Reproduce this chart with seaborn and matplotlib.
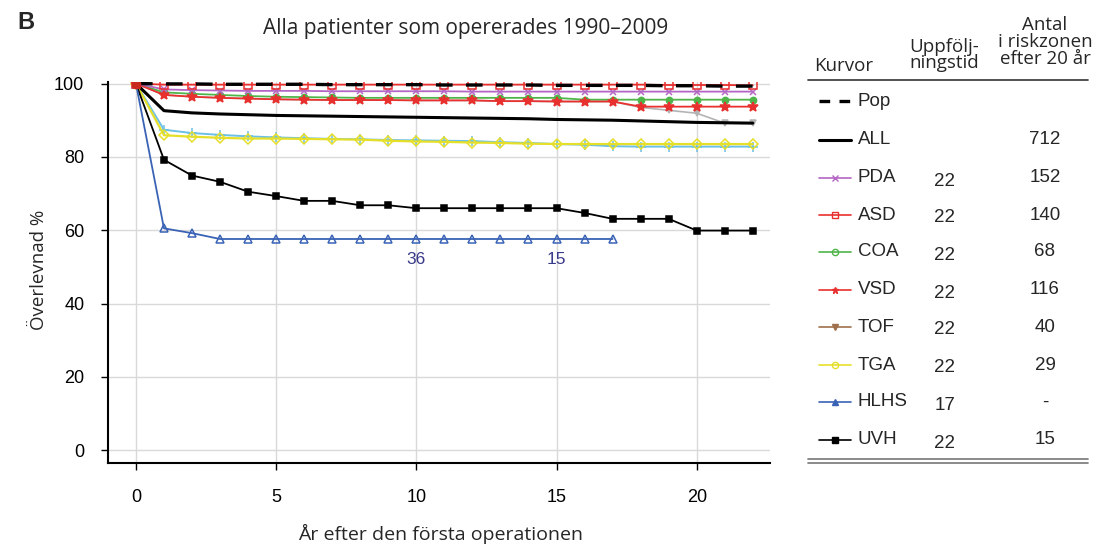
import pandas as pd
import matplotlib.pyplot as plt
import seaborn as sns
import numpy as np

# data (years 0..22)
years = list(range(23))
pop = [100, 99.9, 99.9, 99.8, 99.8, 99.8, 99.8, 99.7, 99.7, 99.7, 99.7, 99.6, 99.6,
       99.6, 99.6, 99.5, 99.5, 99.5, 99.5, 99.4, 99.4, 99.3, 99.3]
all_vals = [100, 92.6, 92.0, 91.7, 91.5, 91.3, 91.2, 91.1, 91.0, 90.9, 90.8, 90.7, 90.6,
            90.5, 90.4, 90.2, 90.1, 90.0, 89.8, 89.6, 89.4, 89.3, 89.2]
pda = [100, 98.4, 98.2, 98.1, 98.0, 98.0, 98.0, 97.9, 97.9, 97.9, 97.9, 97.9, 97.8,
       97.8, 97.8, 97.8, 97.8, 97.8, 97.8, 97.8, 97.8, 97.8, 97.8]
asd = [100, 99.7, 99.7, 99.7, 99.7, 99.7, 99.7, 99.7, 99.7, 99.7, 99.7, 99.7, 99.7,
       99.7, 99.7, 99.7, 99.7, 99.7, 99.7, 99.6, 99.6, 99.6, 99.5]
coa = [100, 97.6, 97.2, 96.9, 96.6, 96.4, 96.3, 96.2, 96.1, 96.1, 96.1, 96.1, 96.1,
       96.1, 96.1, 96.1, 95.6, 95.6, 95.6, 95.6, 95.6, 95.6, 95.6]
vsd = [100, 96.9, 96.4, 96.1, 95.9, 95.7, 95.6, 95.5, 95.5, 95.5, 95.4, 95.4, 95.4,
       95.2, 95.2, 95.1, 95.1, 95.1, 93.7, 93.7, 93.7, 93.7, 93.7]
tof = [100, 96.9, 96.4, 96.1, 95.9, 95.7, 95.6, 95.5, 95.5, 95.5, 95.4, 95.4, 95.4,
       95.2, 95.2, 95.1, 95.1, 95.1, 93.5, 92.7, 91.9, 89.2, 89.2]
tga = [100, 85.9, 85.5, 85.2, 85.0, 85.0, 84.9, 84.8, 84.7, 84.4, 84.2, 84.1, 83.9,
       83.8, 83.6, 83.5, 83.5, 83.5, 83.5, 83.5, 83.5, 83.5, 83.5]
lightblue = [100, 87.4, 86.5, 86.0, 85.6, 85.3, 85.1, 84.9, 84.8, 84.6, 84.5, 84.4, 84.3,
             84.0, 83.8, 83.5, 83.3, 82.9, 82.8, 82.8, 82.8, 82.8, 82.8]
hlhs = [100, 60.5, 59.2, 57.6, 57.6, 57.6, 57.6, 57.6, 57.6, 57.6, 57.6, 57.6, 57.6,
        57.6, 57.6, 57.6, 57.6, 57.6]
uvh = [100, 79.2, 74.9, 73.2, 70.5, 69.3, 68.0, 68.0, 66.8, 66.8, 66.0, 66.0, 66.0,
       66.0, 66.0, 66.0, 64.7, 63.1, 63.1, 63.1, 59.9, 59.9, 59.9]

labels = ["Pop", "ALL", "PDA", "ASD", "COA", "VSD", "TOF", "TGA", "HLHS", "UVH"]
followup = ["", "", "22", "22", "22", "22", "22", "22", "17", "22"]
at_risk = ["", "712", "152", "140", "68", "116", "40", "29", "-", "15"]

purple = "#b466c4"
red = "#e8302e"
green = "#4fb54a"
gray = "#b4b4b4"
brown = "#a0704c"
yellow = "#e6df2a"
ltblue = "#6cc0e6"
blue = "#3a63b5"

sns.set_style("whitegrid")
plt.rcParams['font.family'] = ['Liberation Sans', 'DejaVu Sans']
hf = ["Open Sans", "DejaVu Sans"]

fig = plt.figure(figsize=(11.01, 5.46), dpi=100)
ax = fig.add_axes([0.098, 0.152, 0.601, 0.697])

# series: values, color, marker, markerfacecolor, linestyle, lw, ms
series = [
    (tof, gray, "v", gray, "-", 1.2, 4.5),
    (lightblue, ltblue, "+", ltblue, "-", 1.4, 7),
    (tga, yellow, "D", "none", "-", 1.6, 5),
    (uvh, "black", "s", "black", "-", 1.3, 5),
    (hlhs, blue, "^", "none", "-", 1.3, 5.5),
    (all_vals, "black", None, None, "-", 2.2, 0),
    (coa, green, "o", green, "-", 1.3, 4.5),
    (vsd, red, "*", red, "-", 1.3, 7),
    (pda, purple, "x", purple, "-", 1.3, 5),
    (asd, red, "s", "none", "-", 1.3, 5.5),
]
for vals, col, mk, mfc, ls, lw, ms in series:
    d = pd.DataFrame({"x": years[:len(vals)], "y": vals})
    sns.lineplot(data=d, x="x", y="y", ax=ax, color=col, marker=mk, linestyle=ls,
                 linewidth=lw, markersize=ms, markerfacecolor=mfc, markeredgecolor=col,
                 markeredgewidth=1.1)

d = pd.DataFrame({"x": years, "y": pop})
sns.lineplot(data=d, x="x", y="y", ax=ax, color="black", linewidth=2.4)
ax.lines[-1].set_dashes([5, 4])
ax.plot([0], [100], marker="o", color="#c8281e", markersize=6)

ax.text(10, 52, "36", ha="center", va="center", fontsize=12.5, color="#3a3a8a")
ax.text(15, 52, "15", ha="center", va="center", fontsize=12.5, color="#3a3a8a")

ax.set_xlim(-1.0, 22.6)
ax.set_ylim(-3.5, 100.3)
ax.set_xticks([0, 5, 10, 15, 20])
ax.set_yticks([0, 20, 40, 60, 80, 100])
ax.grid(color="#d9d9d9", linewidth=1)
for s in ["top", "right"]:
    ax.spines[s].set_visible(False)
for s in ["left", "bottom"]:
    ax.spines[s].set_color("black")
    ax.spines[s].set_linewidth(1.5)
ax.tick_params(axis="both", direction="out", length=5, width=1, colors="black",
               labelsize=13, left=True, bottom=True)
ax.tick_params(axis="y", pad=12)
ax.tick_params(axis="x", pad=14)
ax.set_xlabel("")
ax.set_ylabel("")

fig.text(0.035, 0.505, "Överlevnad %", rotation=90, ha="center", va="center",
         fontsize=13.5, family=hf)
fig.text(0.40, 0.022, "År efter den första operationen", ha="center", va="center",
         fontsize=14, family=hf)
fig.text(0.423, 0.948, "Alla patienter som opererades 1990–2009", ha="center",
         va="center", fontsize=15, family=hf)
fig.text(0.016, 0.958, "B", ha="left", va="center", fontsize=17, fontweight="bold")

# table on the right, in pixel coordinates
tx = fig.add_axes([0.72, 0, 0.28, 1])
tx.set_xlim(793, 1101)
tx.set_ylim(546, 0)
tx.axis("off")
tx.text(814, 66, "Kurvor", ha="left", va="center", fontsize=13.5, family=hf)
tx.text(944, 55, "Uppfölj-\nningstid", ha="center", va="center", fontsize=13.5,
        family=hf, linespacing=0.9)
tx.text(1045, 42, "Antal\ni riskzonen\nefter 20 år", ha="center", va="center",
        fontsize=13.5, family=hf, linespacing=0.9)
tx.plot([808, 1088], [80, 80], color="#333333", linewidth=1.2)
tx.plot([808, 1088], [459, 459], color="#777777", linewidth=1.2)
tx.plot([808, 1088], [463, 463], color="#777777", linewidth=1.2)

row_y = [101, 140, 178, 215, 252, 290, 327, 365, 402, 440]
handles = [
    ("black", None, None, (0, (3.2, 2.8)), 2.4),
    ("black", None, None, "-", 2.2),
    (purple, "x", purple, "-", 1.2),
    (red, "s", "none", "-", 1.2),
    (green, "o", "none", "-", 1.2),
    (red, "*", red, "-", 1.2),
    (brown, "v", brown, "-", 1.2),
    (yellow, "o", "none", "-", 1.2),
    (blue, "^", blue, "-", 1.2),
    ("black", "s", "black", "-", 1.2),
]
for i, (lab, f, r) in enumerate(zip(labels, followup, at_risk)):
    y = row_y[i]
    col, mk, mfc, ls, lw = handles[i]
    tx.plot([819, 851], [y, y], color=col, linestyle=ls, linewidth=lw)
    if mk:
        tx.plot([835], [y], marker=mk, color=col, markerfacecolor=mfc,
                markeredgecolor=col, markersize=4.5)
    tx.text(858, y, lab, ha="left", va="center", fontsize=13.5)
    tx.text(945, y + 3, f, ha="center", va="center", fontsize=13.5)
    tx.text(1045, y, r, ha="center", va="center", fontsize=13.5)

fig.savefig("out.png", dpi=100, facecolor="white")
